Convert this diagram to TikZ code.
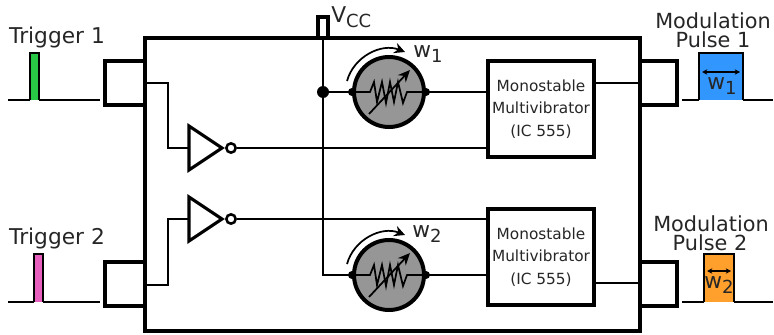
\documentclass[tikz,border=0pt]{standalone}
\usepackage{fontspec}
\setmainfont{DejaVu Sans}
\usetikzlibrary{arrows.meta}
\definecolor{trigone}{RGB}{40,200,70}
\definecolor{trigtwo}{RGB}{232,96,190}
\definecolor{pulseone}{RGB}{50,150,255}
\definecolor{pulsetwo}{RGB}{255,160,45}
\definecolor{rheofill}{RGB}{150,150,150}
\newcommand{\lowered}[1]{\raisebox{-0.45ex}{\fontsize{13.5}{13.5}\selectfont #1}}
\tikzset{
  wall/.style={line width=3.5pt,line cap=rect},
  wire/.style={line width=1.7pt},
  bigtext/.style={font=\fontsize{16.3}{16.3}\selectfont,text=black!85,inner sep=0pt},
  modtext/.style={font=\fontsize{15.6}{15.6}\selectfont,text=black!85,inner sep=0pt},
  monobox/.style={draw,line width=2.6pt,minimum width=79.5pt,minimum height=72pt,inner sep=0pt,align=center,font=\fontsize{11.5}{17}\selectfont,text=black!85},
  rheo/.style={circle,draw,line width=3pt,fill=rheofill,minimum size=52.5pt,inner sep=0pt},
  wiredot/.style={circle,fill=black,minimum size=#1,inner sep=0pt},
  bubble/.style={circle,draw,line width=1.9pt,fill=white,minimum size=7pt,inner sep=0pt},
}
\begin{document}
\begin{tikzpicture}[x=0.75pt,y=-0.75pt]
\useasboundingbox (0,0) rectangle (774,335);
\node[draw,line width=3.5pt,minimum width=371.25pt,minimum height=219.75pt,inner sep=0pt] (chip) at (392.5,184.5) {};
% ports
\draw[wall] (145,61) -| (105,105) -- (145,105);
\draw[wall] (145,262) -| (105,306) -- (145,306);
\draw[wall] (640,61) -| (677,105) -- (640,105);
\draw[wall] (640,262) -| (677,306) -- (640,306);
\draw[line width=2.4pt] (chip.north -| 318,0) |- (328,17) -- (328,38);
% blocks
\node[monobox] (mono1) at (541,109) {Monostable\\Multivibrator\\(IC 555)};
\node[monobox] (mono2) at (541,257) {Monostable\\Multivibrator\\(IC 555)};
\node[rheo] (rheo1) at (389,92) {};
\node[rheo] (rheo2) at (389,275) {};
\node[wiredot=9pt] (vdot) at (323,92) {};
\coordinate (vtop) at (323,38);
\draw[wire] (vtop) -- (vdot);
\draw[wire] (vdot) |- (rheo2.west);
\draw[wire] (vdot) -- (rheo1.west);
\draw[wire] (rheo1.east) -- (mono1.west |- rheo1.east);
\draw[wire] (rheo2.east) -- (mono2.west |- rheo2.east);
\draw[wire] (mono1.east |- 0,83) -- (chip.east |- 0,83);
\draw[wire] (mono2.east |- 0,283) -- (chip.east |- 0,283);
% resistors
\foreach \n/\y in {1/92,2/275} {
  \begin{scope}[shift={(389,\y)}]
    \node[wiredot=6pt] (left\n) at (rheo\n.west) {};
    \node[wiredot=6pt] (right\n) at (rheo\n.east) {};
    \draw[line width=1.3pt] (-36,0) -- (-19,0) -- (-15,-10) -- (-12,10) -- (-7,-10) -- (-3,11) -- (1,-10) -- (5,10) -- (9,-10) -- (14,11) -- (18,0) -- (36,0);
    \draw[line width=1.3pt,-{Stealth[length=9pt,width=8pt]}] (-20,22) -- (21,-22);
    \draw[line width=1.3pt,-{Stealth[length=8pt,width=8pt]}] (-42,-11) to[bend left=48] (16,-40);
  \end{scope}
}
% inverters
\foreach \n/\y in {1/148,2/219} {
  \draw[line width=2.3pt,line join=miter,fill=white] (189,\y-22) -- (222,\y) -- (189,\y+22) -- cycle;
  \node[bubble] (bub\n) at (231,\y) {};
  \coordinate (inv\n) at (189,\y);
  \draw[wire] (bub\n) -- (mono\n.west |- bub\n);
}
\coordinate (tap1) at (145,83);
\coordinate (tap2) at (145,285);
\draw[wire] (tap1) -| (168,148) -- (inv1);
\draw[wire] (tap2) -| (168,219) -- (inv2);
% pulses
\draw[wire,fill=trigone] (30,100) |- (39,53) -- (39,100);
\draw[wire] (8,100) -- (30,100) (39,100) -- (100,100);
\draw[wire,fill=trigtwo] (34,302) |- (43,254) -- (43,302);
\draw[wire] (8,302) -- (34,302) (43,302) -- (100,302);
\draw[wire,fill=pulseone] (699,100) |- (743,53) -- (743,100);
\draw[wire] (682,100) -- (699,100) (743,100) -- (773,100);
\draw[wire,fill=pulsetwo] (704,302) |- (734,254) -- (734,302);
\draw[wire] (682,302) -- (704,302) (734,302) -- (773,302);
\draw[line width=1pt,{Stealth[length=4pt,width=4pt]}-{Stealth[length=4pt,width=4pt]}] (702,72) -- (740,72);
\draw[line width=1pt,{Stealth[length=4pt,width=4pt]}-{Stealth[length=4pt,width=4pt]}] (707,271) -- (731,271);
% labels
\node[bigtext] (trig1) at (57,38) {Trigger 1};
\node[bigtext] (trig2) at (57,239) {Trigger 2};
\node[modtext] (mod1) at (713,21) {Modulation};
\node[modtext] (pul1) at (713,40) {Pulse 1};
\node[modtext] (mod2) at (711,224) {Modulation};
\node[modtext] (pul2) at (710,243) {Pulse 2};
\node[bigtext,anchor=west] (vcc) at (331,17) {V\lowered{CC}};
\node[bigtext,anchor=west] (w1) at (413,54) {w\lowered{1}};
\node[bigtext,anchor=west] (w2) at (412,234) {w\lowered{2}};
\node[bigtext] (wp1) at (722,86) {w\lowered{1}};
\node[bigtext] (wp2) at (719,285) {w\lowered{2}};
\end{tikzpicture}
\end{document}
